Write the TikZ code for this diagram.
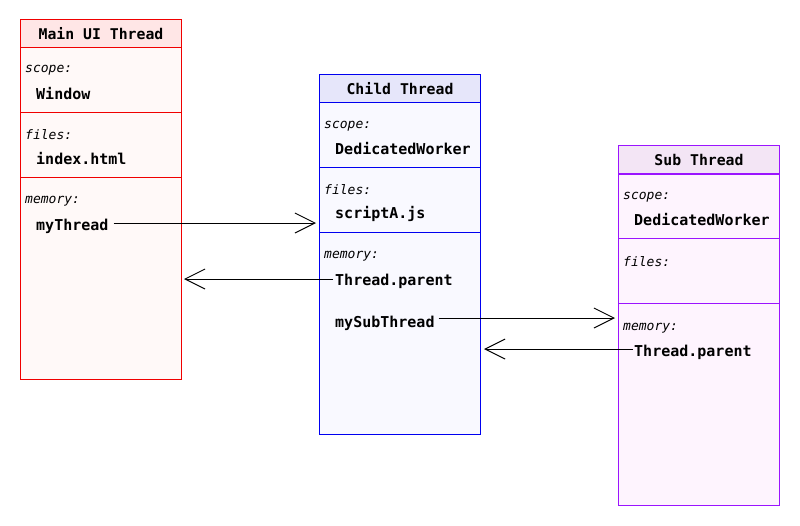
\documentclass[tikz,border=0pt]{standalone}
\usepackage{fontspec}
\setmonofont{DejaVu Sans Mono}
\usetikzlibrary{arrows.meta,positioning,calc}
\definecolor{mainline}{RGB}{240,0,0}
\definecolor{mainhd}{RGB}{255,230,230}
\definecolor{mainbg}{RGB}{255,249,248}
\definecolor{childline}{RGB}{0,0,240}
\definecolor{childhd}{RGB}{230,230,250}
\definecolor{childbg}{RGB}{249,249,255}
\definecolor{subline}{RGB}{155,20,255}
\definecolor{subhd}{RGB}{243,229,245}
\definecolor{subbg}{RGB}{254,244,254}
\begin{document}
\begin{tikzpicture}[x=1pt,y=-1pt,
  >={Straight Barb[length=20pt,width=20pt,line width=1pt]},
  sect/.style={anchor=north west,minimum width=161pt,inner sep=0pt,line width=1pt},
  hd/.style={sect,minimum height=28pt,text depth=0pt,text height=12pt,font=\ttfamily\bfseries\fontsize{14.8}{16}\selectfont},
  tag/.style={anchor=west,inner sep=0pt,yshift=-2pt,font=\ttfamily\itshape\fontsize{13}{15}\selectfont},
  val/.style={anchor=west,inner sep=0pt,yshift=-2pt,font=\ttfamily\bfseries\fontsize{15}{17}\selectfont},
  link/.style={->,line width=1pt}]
  \useasboundingbox (0,0) rectangle (800,525);
  % main UI thread
  \node[hd,draw=mainline,fill=mainhd] (mainhead) at (20,19) {Main UI Thread};
  \node[sect,draw=mainline,fill=mainbg,minimum height=65pt] (mainscope) at (20,47) {};
  \node[sect,draw=mainline,fill=mainbg,minimum height=65pt] (mainfiles) at (20,112) {};
  \node[sect,draw=mainline,fill=mainbg,minimum height=202pt] (mainmem) at (20,177) {};
  \node[tag] (mainscopetag) at (25,68) {scope:};
  \node[val] (mainwin) at (36,92) {Window};
  \node[tag] (mainfilestag) at (25,133) {files:};
  \node[val] (mainindex) at (36,157) {index.html};
  \node[tag] (mainmemtag) at (25,199) {memory:};
  \node[val] (mythread) at (36,224) {myThread};
  % child thread
  \node[hd,draw=childline,fill=childhd] (childhead) at (319,74) {Child Thread};
  \node[sect,draw=childline,fill=childbg,minimum height=65pt] (childscope) at (319,102) {};
  \node[sect,draw=childline,fill=childbg,minimum height=65pt] (childfiles) at (319,167) {};
  \node[sect,draw=childline,fill=childbg,minimum height=202pt] (childmem) at (319,232) {};
  \node[tag] (childscopetag) at (324,124) {scope:};
  \node[val] (childworker) at (335,147) {DedicatedWorker};
  \node[tag] (childfilestag) at (324,188) {files:};
  \node[val] (childscript) at (335,212) {scriptA.js};
  \node[tag] (childmemtag) at (324,254) {memory:};
  \node[val] (childparent) at (335,279) {Thread.parent};
  \node[val] (mysubthread) at (335,321) {mySubThread};
  % sub thread
  \node[hd,draw=subline,fill=subhd] (subhead) at (618,145) {Sub Thread};
  \node[sect,draw=subline,fill=subbg,minimum height=65pt] (subscope) at (618,174) {};
  \node[sect,draw=subline,fill=subbg,minimum height=65pt] (subfiles) at (618,238) {};
  \node[sect,draw=subline,fill=subbg,minimum height=202pt] (submem) at (618,303) {};
  \node[tag] (subscopetag) at (623,195) {scope:};
  \node[val] (subworker) at (634,218) {DedicatedWorker};
  \node[tag] (subfilestag) at (623,260) {files:};
  \node[tag] (submemtag) at (623,326) {memory:};
  \node[val] (subparent) at (634,350) {Thread.parent};
  % arrow ends
  \coordinate (childin) at (316,223);
  \coordinate (mainback) at (184,279);
  \coordinate (subin) at (615,318);
  \coordinate (childback) at (484,349);
  \draw[link,shorten <=5pt] (childin -| mythread.east) -- (childin);
  \draw[link,shorten <=2pt] (mainback -| childparent.west) -- (mainback);
  \draw[link,shorten <=4pt] (subin -| mysubthread.east) -- (subin);
  \draw[link,shorten <=1pt] (childback -| subparent.west) -- (childback);
\end{tikzpicture}
\end{document}
